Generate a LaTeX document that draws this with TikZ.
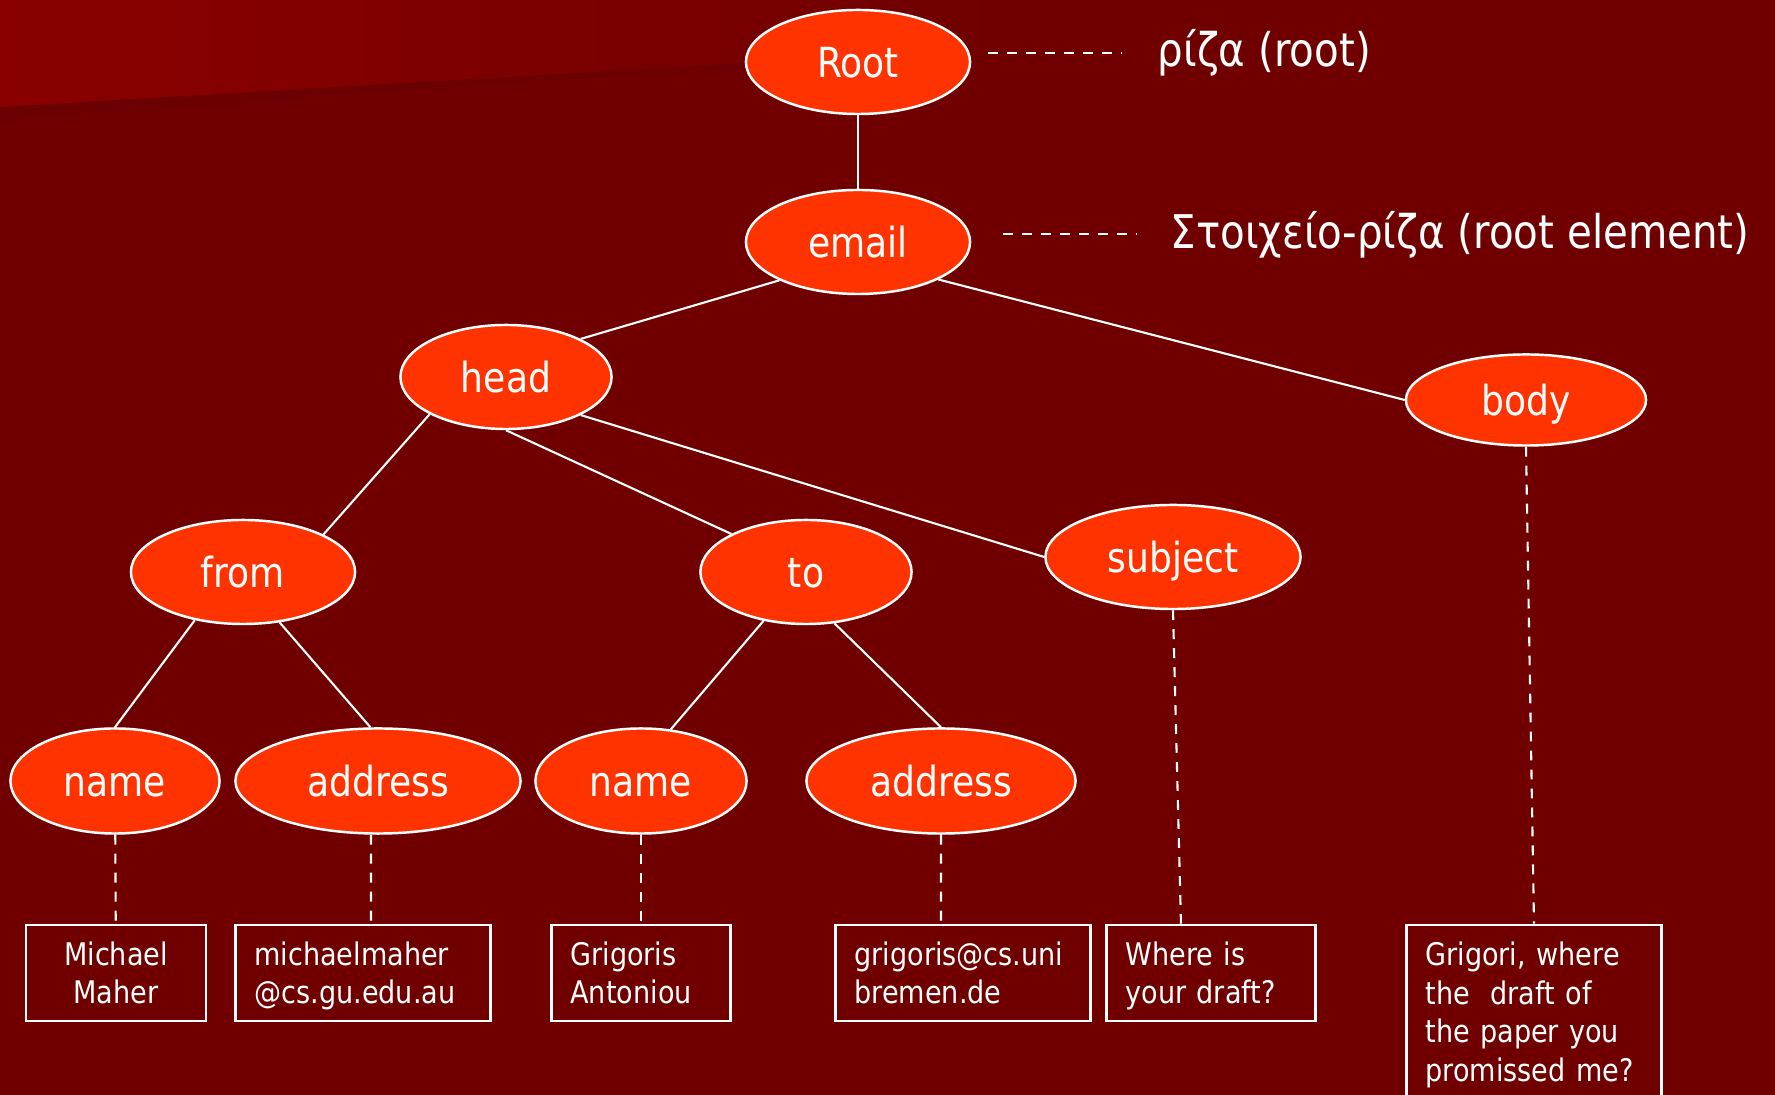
\documentclass[tikz,border=0pt]{standalone}
\usepackage{fontspec}
\setmainfont[FakeStretch=0.87]{DejaVu Sans}
\usetikzlibrary{shapes.geometric}

\definecolor{bgred}{HTML}{700000}
\definecolor{bandred}{HTML}{8A0000}
\definecolor{bandshade}{HTML}{660000}
\definecolor{elemfill}{HTML}{FF3300}
\newcommand{\elemfont}{\fontsize{11.8pt}{14pt}\selectfont}
\newcommand{\boxfont}{\fontsize{8.85pt}{10.95pt}\selectfont}
\newcommand{\notefont}{\fontsize{13.2pt}{16pt}\selectfont}
\hyphenpenalty=10000

\tikzset{
  elem/.style={ellipse, draw=white, line width=0.7pt, fill=elemfill,
    text=white, font=\elemfont, inner sep=0pt, text height=0.9em, text depth=0pt},
  txtbox/.style={draw=white, line width=0.7pt, text=white, font=\boxfont,
    inner xsep=0.19cm, inner ysep=0pt, align=left, minimum height=0.96cm,
    text height=6.6pt, text depth=10.95pt},
  note/.style={text=white, font=\notefont, inner sep=0pt, anchor=base west},
  link/.style={draw=white, line width=0.6pt},
  dlink/.style={link, dash pattern=on 2.8pt off 2.6pt},
}

\begin{document}
\begin{tikzpicture}[x=0.01cm,y=-0.01cm]
    \useasboundingbox (0,0) rectangle (1775,1095);
    \clip (0,0) rectangle (1775,1095);
    % Slide background with the lighter band at the top left
    \fill[bgred] (0,0) rectangle (1775,1095);
    \shade[left color=bandred, right color=bgred] 
      (0,0) -- (1000,0) -- (1000,48) -- (0,107) -- cycle;
    \fill[bandshade, opacity=0.5] (0,107) -- (750,63) -- (750,66) -- (0,120) -- cycle;

    % Element nodes of the tree
    \node[elem, minimum width=2.24cm, minimum height=1.04cm] (root) at (858,62) {Root};
    \node[elem, minimum width=2.24cm, minimum height=1.04cm] (email) at (858,242) {email};
    \node[elem, minimum width=2.11cm, minimum height=1.04cm] (head) at (506,377) {head};
    \node[elem, minimum width=2.40cm, minimum height=0.91cm] (body) at (1526,400) {body};
    \node[elem, minimum width=2.24cm, minimum height=1.04cm] (from) at (243,572) {from};
    \node[elem, minimum width=2.11cm, minimum height=1.04cm] (to) at (806,572) {to};
    \node[elem, minimum width=2.55cm, minimum height=1.04cm] (subject) at (1173,557) {subject};
    \node[elem, minimum width=2.09cm, minimum height=1.05cm] (name1) at (115,781) {name};
    \node[elem, minimum width=2.85cm, minimum height=1.05cm] (addr1) at (378,781) {address};
    \node[elem, minimum width=2.11cm, minimum height=1.05cm] (name2) at (641,781) {name};
    \node[elem, minimum width=2.69cm, minimum height=1.05cm] (addr2) at (941,781) {address};

    % Text boxes (leaves)
    \node[txtbox, text width=1.42cm, align=center] (mm) at (116,973) {Michael\\Maher};
    \node[txtbox, text width=2.17cm] (mmaddr) at (363,973) {michaelmaher\\@cs.gu.edu.au};
    \node[txtbox, text width=1.41cm] (ga) at (641,973) {Grigoris\\Antoniou};
    \node[txtbox, text width=2.17cm] (gaddr) at (963,973) {grigoris@cs.uni\\bremen.de};
    \node[txtbox, text width=1.71cm] (where) at (1211,973) {Where is\\your draft?};
    \node[txtbox, text width=2.17cm, minimum height=1.74cm, text depth=32.85pt] (grig)
      at (1534,1012) {Grigori, where\\the~ draft of\\the paper you\\promissed me?};

    % Notes on the right
    \node[note] (rootnote) at (1157,67) {ρίζα (root)};
    \node[note] (emailnote) at (1170,249) {Στοιχείο-ρίζα (root element)};
    \draw[dlink] ([shift={(0.17cm,0.09cm)}]root.east) -- ++(134,0);
    \draw[dlink] ([shift={(0.32cm,0.08cm)}]email.east) -- ++(134,0);

    % Tree edges
    \draw[link] (root) -- (email);
    \draw[link] (email.206) -- (head.27);
    \draw[link] (email.335) -- (body.west);
    \draw[link] (head.206) -- (from.25);
    \draw[link] (head.south) -- (to.153);
    \draw[link] (head.333) -- (subject.west);
    \draw[link] (from.225) -- (name1.north);
    \draw[link] (from.306) -- (addr1.98);
    \draw[link] (to.229) -- (name2.60);
    \draw[link] (to.299) -- (addr2.north);

    % Dashed links to the text
    \draw[dlink] (name1) -- (mm);
    \draw[dlink] ([xshift=-0.07cm]addr1.south) -- ([xshift=0.08cm]mmaddr.north);
    \draw[dlink] (name2) -- (ga);
    \draw[dlink] (addr2.south) -- ([xshift=-0.22cm]gaddr.north);
    \draw[dlink] (subject.south) -- ([xshift=-0.30cm]where.north);
    \draw[dlink] (body.south) -- (grig.north);
\end{tikzpicture}
\end{document}
